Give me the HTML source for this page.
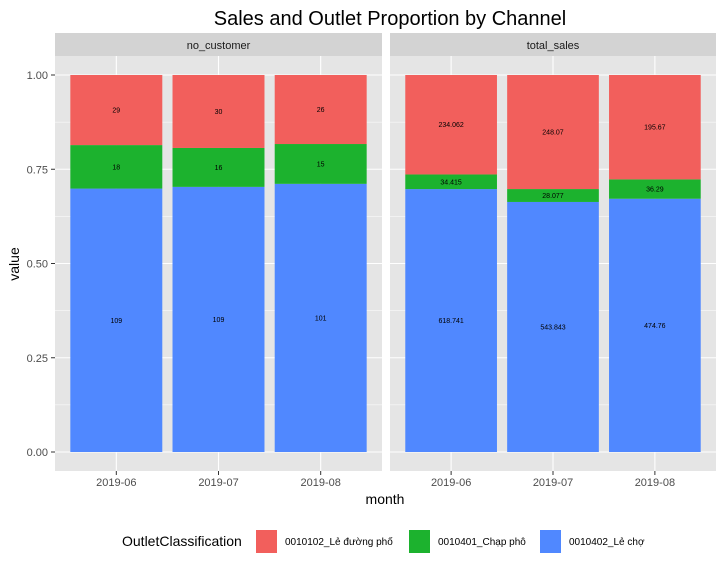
<!DOCTYPE html>
<html><head><meta charset="utf-8"><style>
body{margin:0;background:#fff;font-family:"Liberation Sans",sans-serif}
</style></head><body>
<svg id="chart" width="725" height="566" xmlns="http://www.w3.org/2000/svg" font-family="Liberation Sans, sans-serif"></svg>
<script>
const months = ["2019-06","2019-07","2019-08"];
const facets = ["no_customer","total_sales"];
const leRed_nc = [29,30,26];
const chap_nc = [18,16,15];
const cho_nc = [109,109,101];
const leRed_ts = [234.062,248.07,195.67];
const chap_ts = [34.415,28.077,36.29];
const cho_ts = [618.741,543.843,474.76];
const yTicks = [0,0.25,0.5,0.75,1];
const yTickLabels = ["0.00","0.25","0.50","0.75","1.00"];
const seriesNames = ["0010102_Lẻ đường phố","0010401_Chạp phô","0010402_Lẻ chợ"];
const colors = ["#F25F5C","#1CB22E","#5088FF"];

const svg = document.getElementById('chart');
const NS = "http://www.w3.org/2000/svg";
function mk(tag, attrs, parent, text){
  const e = document.createElementNS(NS, tag);
  for (const k in attrs) e.setAttribute(k, attrs[k]);
  if (text !== undefined) e.textContent = text;
  (parent||svg).appendChild(e);
  return e;
}
const plotTop = 56, plotBottom = 471;
const y = v => 452 - v*377;
const panels = [{x0:55,x1:382,data:[leRed_nc,chap_nc,cho_nc]},{x0:390,x1:716,data:[leRed_ts,chap_ts,cho_ts]}];

let t = mk('text',{x:390,y:25,'text-anchor':'middle','font-size':20,fill:'#000'},svg,"Sales and Outlet Proportion by Channel");



panels.forEach((p,pi)=>{
  const w = p.x1-p.x0, step = w/3.2;
  const xc = i => p.x0 + step*(0.6+i);
  const g = mk('g',{});
  
  
  mk('rect',{x:p.x0,y:plotTop,width:w,height:plotBottom-plotTop,fill:'#E5E5E5'},g);
  for (let k=0;k<yTicks.length-1;k++){
    const v=(yTicks[k]+yTicks[k+1])/2;
    mk('line',{x1:p.x0,x2:p.x1,y1:y(v),y2:y(v),stroke:'#fff','stroke-width':0.5},g);
  }
  yTicks.forEach(v=>mk('line',{x1:p.x0,x2:p.x1,y1:y(v),y2:y(v),stroke:'#fff','stroke-width':1.1},g));
  months.forEach((m,i)=>mk('line',{x1:xc(i),x2:xc(i),y1:plotTop,y2:plotBottom,stroke:'#fff','stroke-width':1.1},g));
  const s = mk('rect',{x:p.x0,y:33,width:w,height:23,fill:'#D3D3D3'},g);
  
  
  mk('text',{x:(p.x0+p.x1)/2,y:49,'text-anchor':'middle','font-size':11,fill:'#1A1A1A'},g,facets[pi]);
  const bw = step*0.9;
  months.forEach((m,i)=>{
    const vals = p.data.map(a=>a[i]);
    const tot = vals.reduce((a,b)=>a+b,0);
    let cum = 0;
    for (let sI=2; sI>=0; sI--){
      const f = vals[sI]/tot;
      const r = mk('rect',{x:xc(i)-bw/2,y:y(cum+f),width:bw,height:y(cum)-y(cum+f),fill:colors[sI]},g);
      
      
      const lb = mk('text',{x:xc(i),y:y(cum+f/2)+2.5,'text-anchor':'middle','font-size':7,fill:'#000'},g,String(vals[sI]));
      
      
      cum += f;
    }
    mk('line',{x1:xc(i),x2:xc(i),y1:plotBottom,y2:plotBottom+4,stroke:'#333','stroke-width':1},g);
    const xl = mk('text',{x:xc(i),y:plotBottom+15,'text-anchor':'middle','font-size':11,fill:'#4D4D4D'},g,m);
    
    
  });
});
yTicks.forEach((v,k)=>{
  mk('line',{x1:51,x2:55,y1:y(v),y2:y(v),stroke:'#333','stroke-width':1});
  const l = mk('text',{x:48,y:y(v)+4,'text-anchor':'end','font-size':11,fill:'#4D4D4D'},svg,yTickLabels[k]);
  
  
});
let yt = mk('text',{x:0,y:0,'text-anchor':'middle','font-size':14,fill:'#000',transform:'translate(19,264) rotate(-90)'},svg,'value');


let xt = mk('text',{x:385,y:504,'text-anchor':'middle','font-size':14,fill:'#000'},svg,'month');


const lg = mk('g',{});


mk('text',{x:122,y:546,'font-size':14,fill:'#000'},lg,'OutletClassification');
const lx = [256,409,540];
seriesNames.forEach((n,i)=>{
  const r = mk('rect',{x:lx[i],y:530,width:21,height:23,fill:colors[i]},lg);
  
  
  const tx = mk('text',{x:lx[i]+29,y:545,'font-size':10,fill:'#000'},lg,n);
  
  
});
</script>
</body></html>
